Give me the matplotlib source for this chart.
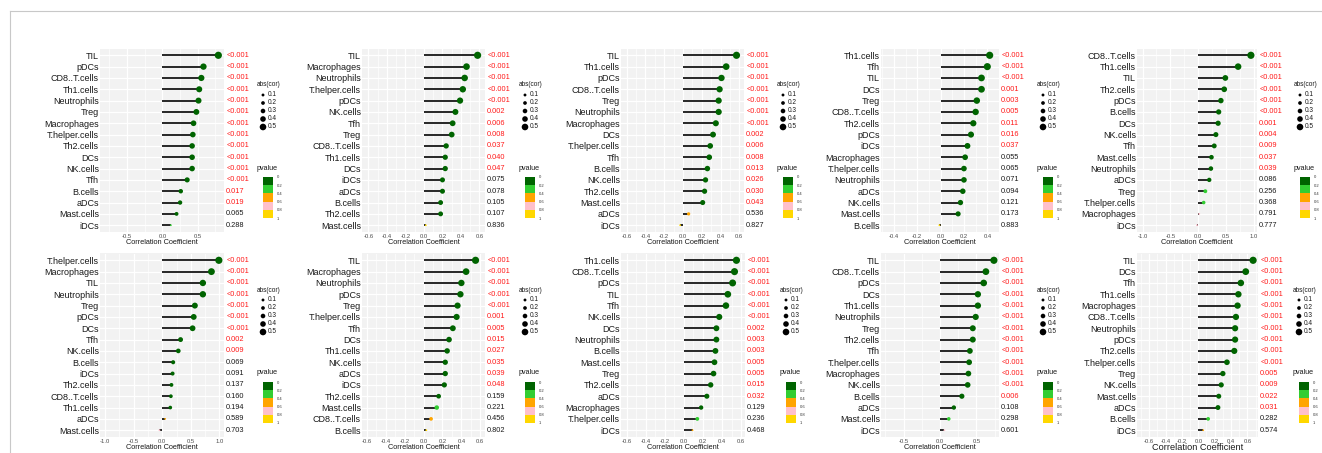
import numpy as np
import matplotlib
matplotlib.use("Agg")
import matplotlib.pyplot as plt
from matplotlib.colors import ListedColormap, BoundaryNorm
from matplotlib.colorbar import ColorbarBase

plt.rcParams['font.family'] = ['Liberation Sans', 'DejaVu Sans']

W, H = 1322, 453

# ---------------- data: one lollipop panel per block ----------------
cells_1 = ["TIL", "pDCs", "CD8..T.cells", "Th1.cells", "Neutrophils", "Treg", "Macrophages",
           "T.helper.cells", "Th2.cells", "DCs", "NK.cells", "Tfh", "B.cells", "aDCs",
           "Mast.cells", "iDCs"]
cor_1 = [0.79, 0.58, 0.55, 0.52, 0.51, 0.48, 0.44, 0.43, 0.42, 0.42, 0.42, 0.35, 0.26, 0.25, 0.20, 0.12]
p_1 = ["<0.001"] * 12 + ["0.017", "0.019", "0.065", "0.288"]

cells_2 = ["TIL", "Macrophages", "Neutrophils", "T.helper.cells", "pDCs", "NK.cells", "Tfh", "Treg",
           "CD8..T.cells", "Th1.cells", "DCs", "iDCs", "aDCs", "B.cells", "Th2.cells", "Mast.cells"]
cor_2 = [0.58, 0.46, 0.44, 0.42, 0.39, 0.34, 0.31, 0.30, 0.24, 0.23, 0.23, 0.20, 0.20, 0.18, 0.18, 0.02]
p_2 = ["<0.001"] * 5 + ["0.002", "0.006", "0.008", "0.037", "0.040", "0.047", "0.075", "0.078",
                        "0.105", "0.107", "0.836"]

cells_3 = ["TIL", "Th1.cells", "pDCs", "CD8..T.cells", "Treg", "Neutrophils", "Macrophages", "DCs",
           "T.helper.cells", "Tfh", "B.cells", "NK.cells", "Th2.cells", "Mast.cells", "aDCs", "iDCs"]
cor_3 = [0.57, 0.46, 0.41, 0.39, 0.38, 0.38, 0.35, 0.32, 0.29, 0.28, 0.26, 0.24, 0.23, 0.21, 0.06, -0.03]
p_3 = ["<0.001"] * 7 + ["0.002", "0.006", "0.008", "0.013", "0.026", "0.030", "0.043", "0.536", "0.827"]

cells_4 = ["Th1.cells", "Tfh", "TIL", "DCs", "Treg", "CD8..T.cells", "Th2.cells", "pDCs", "iDCs",
           "Macrophages", "T.helper.cells", "Neutrophils", "aDCs", "NK.cells", "Mast.cells", "B.cells"]
cor_4 = [0.42, 0.40, 0.35, 0.35, 0.31, 0.30, 0.28, 0.26, 0.23, 0.21, 0.20, 0.20, 0.19, 0.17, 0.15, -0.01]
p_4 = ["<0.001"] * 3 + ["0.001", "0.003", "0.005", "0.011", "0.016", "0.037", "0.055", "0.065",
                        "0.071", "0.094", "0.121", "0.173", "0.883"]

cells_5 = ["CD8..T.cells", "Th1.cells", "TIL", "Th2.cells", "pDCs", "B.cells", "DCs", "NK.cells", "Tfh",
           "Mast.cells", "Neutrophils", "aDCs", "Treg", "T.helper.cells", "Macrophages", "iDCs"]
cor_5 = [0.95, 0.72, 0.49, 0.47, 0.41, 0.37, 0.36, 0.32, 0.29, 0.24, 0.23, 0.20, 0.13, 0.10, 0.02, -0.02]
p_5 = ["<0.001"] * 6 + ["0.001", "0.004", "0.009", "0.037", "0.039", "0.086", "0.256", "0.368",
                        "0.791", "0.777"]

cells_6 = ["T.helper.cells", "Macrophages", "TIL", "Neutrophils", "Treg", "pDCs", "DCs", "Tfh",
           "NK.cells", "B.cells", "iDCs", "Th2.cells", "CD8..T.cells", "Th1.cells", "aDCs", "Mast.cells"]
cor_6 = [0.99, 0.86, 0.71, 0.71, 0.57, 0.55, 0.53, 0.32, 0.28, 0.19, 0.18, 0.16, 0.15, 0.14, 0.05, -0.05]
p_6 = ["<0.001"] * 7 + ["0.002", "0.009", "0.069", "0.091", "0.137", "0.160", "0.194", "0.589", "0.703"]

cells_7 = ["TIL", "Macrophages", "Neutrophils", "pDCs", "Treg", "T.helper.cells", "Tfh", "DCs",
           "Th1.cells", "NK.cells", "aDCs", "iDCs", "Th2.cells", "Mast.cells", "CD8..T.cells", "B.cells"]
cor_7 = [0.55, 0.45, 0.40, 0.39, 0.36, 0.35, 0.31, 0.27, 0.25, 0.23, 0.23, 0.22, 0.16, 0.14, 0.08, 0.03]
p_7 = ["<0.001"] * 5 + ["0.001", "0.005", "0.015", "0.027", "0.035", "0.039", "0.048", "0.159",
                        "0.221", "0.456", "0.802"]

cells_8 = ["Th1.cells", "CD8..T.cells", "pDCs", "TIL", "Tfh", "NK.cells", "DCs", "Neutrophils",
           "B.cells", "Mast.cells", "Treg", "Th2.cells", "aDCs", "Macrophages", "T.helper.cells", "iDCs"]
cor_8 = [0.55, 0.53, 0.51, 0.46, 0.44, 0.37, 0.34, 0.34, 0.33, 0.32, 0.31, 0.28, 0.24, 0.18, 0.14, 0.09]
p_8 = ["<0.001"] * 6 + ["0.002", "0.003", "0.003", "0.005", "0.005", "0.015", "0.032", "0.129",
                        "0.236", "0.468"]

cells_9 = ["TIL", "CD8..T.cells", "pDCs", "DCs", "Th1.cells", "Neutrophils", "Treg", "Th2.cells", "Tfh",
           "T.helper.cells", "Macrophages", "NK.cells", "B.cells", "aDCs", "Mast.cells", "iDCs"]
cor_9 = [0.74, 0.63, 0.60, 0.52, 0.52, 0.49, 0.45, 0.45, 0.41, 0.40, 0.39, 0.38, 0.30, 0.19, 0.12, 0.06]
p_9 = ["<0.001"] * 12 + ["0.006", "0.108", "0.298", "0.601"]

cells_10 = ["TIL", "DCs", "Tfh", "Th1.cells", "Macrophages", "CD8..T.cells", "Neutrophils", "pDCs",
            "Th2.cells", "T.helper.cells", "Treg", "NK.cells", "Mast.cells", "aDCs", "B.cells", "iDCs"]
cor_10 = [0.67, 0.58, 0.52, 0.49, 0.48, 0.46, 0.45, 0.45, 0.44, 0.35, 0.30, 0.28, 0.25, 0.24, 0.12, 0.06]
p_10 = ["<0.001"] * 10 + ["0.005", "0.009", "0.022", "0.031", "0.282", "0.574"]

panels = [(cells_1, cor_1, p_1), (cells_2, cor_2, p_2), (cells_3, cor_3, p_3),
          (cells_4, cor_4, p_4), (cells_5, cor_5, p_5), (cells_6, cor_6, p_6),
          (cells_7, cor_7, p_7), (cells_8, cor_8, p_8), (cells_9, cor_9, p_9),
          (cells_10, cor_10, p_10)]

pvalue_breaks = [0.0, 0.2, 0.4, 0.6, 0.8, 1.0]
pvalue_colors = ["#006400", "#32CD32", "#FFA500", "#FFC0CB", "#FFD700"]
size_breaks = [0.1, 0.2, 0.3, 0.4, 0.5]

# ---------------- layout (pixels) ----------------
plot_left = [100, 362, 621, 881, 1137, 100, 362, 621, 881, 1137]
plot_right = [224, 485, 744, 999, 1257, 224, 485, 745, 999, 1258]
x_limits = [(-0.88, 0.87), (-0.67, 0.66), (-0.66, 0.65), (-0.51, 0.50), (-1.10, 1.06),
            (-1.09, 1.08), (-0.65, 0.65), (-0.66, 0.64), (-0.81, 0.81), (-0.75, 0.73)]
tick_step = [0.5, 0.2, 0.2, 0.2, 0.5, 0.5, 0.2, 0.2, 0.5, 0.2]
legend_left = [257, 519, 777, 1037, 1294, 257, 519, 780, 1037, 1293]
row_top = [48.5, 253.5]
row_height = 183.5
xlabel_size = [5.3] * 9 + [6.6]

cmap = ListedColormap(pvalue_colors)
norm = BoundaryNorm(pvalue_breaks, cmap.N)


def pnum(s):
    return 0.0005 if s.startswith("<") else float(s)


def frac_box(x0, y0, x1, y1):
    return [x0 / W, 1 - y1 / H, (x1 - x0) / W, (y1 - y0) / H]


fig = plt.figure(figsize=(W / 100, H / 100), dpi=100)
fig.patch.set_facecolor("white")

for k, (cells, cor, pv) in enumerate(panels):
    row = k // 5
    top = row_top[row]
    bot = top + row_height
    L, R = plot_left[k], plot_right[k]
    ax = fig.add_axes(frac_box(L, top, R, bot))
    ax.set_facecolor("#F2F2F2")
    n = len(cells)
    y = np.arange(n)
    r = np.array(cor)
    p = np.array([pnum(s) for s in pv])

    lo, hi = x_limits[k]
    st = tick_step[k]
    major = st * np.arange(np.ceil(lo / st - 1e-9), np.floor(hi / st + 1e-9) + 1)
    minor = st * (np.arange(np.floor(lo / st) - 1, np.ceil(hi / st) + 1) + 0.5)
    for m in minor:
        ax.axvline(m, color="white", lw=0.45, zorder=0.5)
    for m in major:
        ax.axvline(m, color="white", lw=0.9, zorder=0.6)
    for yy in y:
        ax.axhline(yy, color="white", lw=0.9, zorder=0.6)

    ax.hlines(y, 0, r, color="#1E1E1E", lw=1.35, zorder=2)
    a = np.abs(r)
    t = (a - a.min()) / (a.max() - a.min())
    d = 1.8 + 5.4 * t ** 0.45
    ax.scatter(r, y, s=(d * 0.72) ** 2, c=p, cmap=cmap, norm=norm, edgecolors="none", zorder=3)

    for i, s in enumerate(pv):
        col = "#FF1A1A" if p[i] < 0.05 else "#1A1A1A"
        ax.annotate(s, xy=(1, i), xycoords=ax.get_yaxis_transform(), xytext=(1.6, 0),
                    textcoords="offset points", ha="left", va="center", fontsize=5.3, color=col)

    ax.set_xlim(lo, hi)
    ax.set_ylim(n - 1 + 0.6, -0.6)
    ax.set_xticks(major)
    ax.set_xticklabels([f"{v:.1f}".replace("-0.0", "0.0") for v in major], fontsize=4.2, color="#4D4D4D")
    ax.set_yticks(y)
    ax.set_yticklabels(cells, fontsize=6.5, color="#1A1A1A")
    ax.tick_params(axis="both", length=0)
    ax.tick_params(axis="x", pad=1.3)
    ax.tick_params(axis="y", pad=0.8)
    for sp in ax.spines.values():
        sp.set_visible(False)
    fig.text((L + R) / 2 / W, 1 - (bot + 10.5) / H, "Correlation Coefficient",
             ha="center", va="center", fontsize=xlabel_size[k], color="#1A1A1A")

    # legends
    x0 = legend_left[k]
    dy = row * 205
    fig.text(x0 / W, 1 - (85 + dy) / H, "abs(cor)", ha="left", va="center", fontsize=4.7, color="#1A1A1A")
    fig.text(x0 / W, 1 - (168 + dy) / H, "pvalue", ha="left", va="center", fontsize=5.1, color="#1A1A1A")
    lg = fig.add_axes(frac_box(x0, 90 + dy, x0 + 22, 132 + dy))
    lg.set_xlim(0, 22)
    lg.set_ylim(132 + dy, 90 + dy)
    lg.axis("off")
    ld = [2.9, 3.7, 4.6, 5.6, 6.6]
    for j, b in enumerate(size_breaks):
        yy = 95 + 8 * j + dy
        lg.scatter([6], [yy], s=(ld[j] * 0.72) ** 2, color="black", edgecolors="none")
        lg.text(11, yy, f"{b:.1f}", ha="left", va="center", fontsize=4.7, color="#1A1A1A")

    cax = fig.add_axes(frac_box(x0 + 6, 177 + dy, x0 + 16, 218 + dy))
    cb = ColorbarBase(cax, cmap=cmap, norm=norm, orientation="vertical", ticks=pvalue_breaks)
    cb.outline.set_visible(False)
    cax.invert_yaxis()
    cax.set_yticklabels(["0", "0.2", "0.4", "0.6", "0.8", "1"], fontsize=3.0, color="#333333")
    cax.tick_params(length=0, pad=2.5)

# thin frame along the top and left edges
frame = fig.add_axes([0, 0, 1, 1], zorder=-1)
frame.set_xlim(0, W)
frame.set_ylim(H, 0)
frame.axis("off")
frame.plot([10, W], [11, 11], color="#C8C8C8", lw=0.8)
frame.plot([10, 10], [11, H], color="#C8C8C8", lw=0.8)

fig.savefig("out.png", dpi=100)
